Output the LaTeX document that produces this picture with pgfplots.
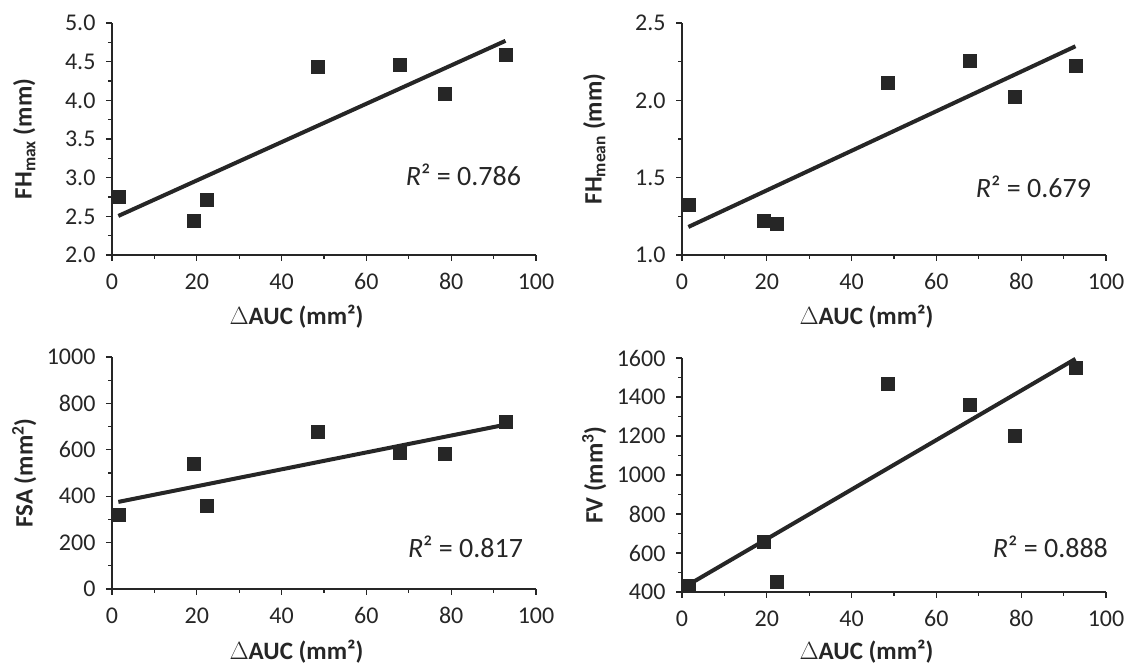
\documentclass[border=0pt]{standalone}
\usepackage{pgfplots}
\pgfplotsset{compat=1.18}
\usepackage{pgfplotstable}
\usepackage{fontspec}
\setmainfont{Carlito}

\pgfplotstableread{
x    fhmax  fhmean  fsa  fv
1.5  2.748  1.325   320  433
19.3 2.443  1.221   540  658
22.4 2.709  1.200   360  455
48.5 4.432  2.111   680  1466
67.8 4.467  2.257   589  1359
78.4 4.080  2.025   585  1201
92.8 4.596  2.227   721  1550
}\data

\definecolor{txt}{HTML}{262626}

\tikzset{rsq/.style={anchor=east, font=\fontsize{28}{32}\selectfont, text=txt, inner sep=0pt}}

\pgfplotsset{
  base/.style={
    scale only axis, anchor=south west, clip=false,
    xmin=0, xmax=100, xtick={0,20,...,100},
    minor x tick num=1, minor y tick num=1,
    axis x line=bottom, axis y line=left,
    axis line style={-, line width=1.4pt, txt},
    tick align=outside, major tick length=6pt, minor tick length=4pt,
    every tick/.style={line width=1.3pt, txt},
    tick label style={font=\fontsize{24}{28}\selectfont, text=txt},
    x tick label style={yshift=-9pt},
    y tick label style={xshift=-7pt},
    /pgf/number format/assume math mode=true,
    /pgf/number format/1000 sep={},
    scaled y ticks=false,
    label style={font=\fontsize{25}{30}\selectfont\bfseries, text=txt},
    xlabel={$\Delta$AUC (mm²)},
    xlabel style={at={(axis description cs:0.435,-0.265)}, anchor=center},
    ylabel style={at={(axis description cs:-0.207,0.5)}, anchor=center},
  },
  fit/.style={line width=4pt, txt},
  pts/.style={only marks, mark=square*, mark size=6.5pt, txt},
}

\begin{document}
\begin{tikzpicture}[x=1pt,y=1pt]
\path[use as bounding box] (0,0) rectangle (1125,668);

% Panel 1
\begin{axis}[base, at={(112pt,413pt)}, width=424pt, height=232pt,
  ymin=2, ymax=5, ytick={2,2.5,...,5},
  y tick label style={/pgf/number format/.cd, fixed, fixed zerofill, precision=1},
  ylabel={FH\textsubscript{max} (mm)}]
\addplot[fit] table[x=x, y={create col/linear regression={y=fhmax}}] {\data};
\addplot[pts] table[x=x, y=fhmax] {\data};
\node[rsq] at (rel axis cs:0.965,0.345) {\textit{R}² = 0.786};
\end{axis}

% Panel 2
\begin{axis}[base, at={(682pt,413pt)}, width=424pt, height=232pt,
  ymin=1, ymax=2.5, ytick={1,1.5,...,2.5},
  y tick label style={/pgf/number format/.cd, fixed, fixed zerofill, precision=1},
  ylabel={FH\textsubscript{mean} (mm)}]
\addplot[fit] table[x=x, y={create col/linear regression={y=fhmean}}] {\data};
\addplot[pts] table[x=x, y=fhmean] {\data};
\node[rsq] at (rel axis cs:0.965,0.293) {\textit{R}² = 0.679};
\end{axis}

% Panel 3
\begin{axis}[base, at={(112pt,79pt)}, width=424pt, height=232pt,
  ymin=0, ymax=1000, ytick={0,200,...,1000},
  xlabel style={at={(axis description cs:0.435,-0.272)}},
  ylabel={FSA (mm\textsuperscript{2})}]
\addplot[fit] table[x=x, y={create col/linear regression={y=fsa}}] {\data};
\addplot[pts] table[x=x, y=fsa] {\data};
\node[rsq] at (rel axis cs:0.97,0.181) {\textit{R}² = 0.817};
\end{axis}

% Panel 4
\begin{axis}[base, at={(682pt,76pt)}, width=424pt, height=234pt,
  ymin=400, ymax=1600, ytick={400,600,...,1600},
  xlabel style={at={(axis description cs:0.435,-0.256)}},
  ylabel={FV (mm\textsuperscript{3})}]
\addplot[fit] table[x=x, y={create col/linear regression={y=fv}}] {\data};
\addplot[pts] table[x=x, y=fv] {\data};
\node[rsq] at (rel axis cs:1.005,0.192) {\textit{R}² = 0.888};
\end{axis}
\end{tikzpicture}
\end{document}
